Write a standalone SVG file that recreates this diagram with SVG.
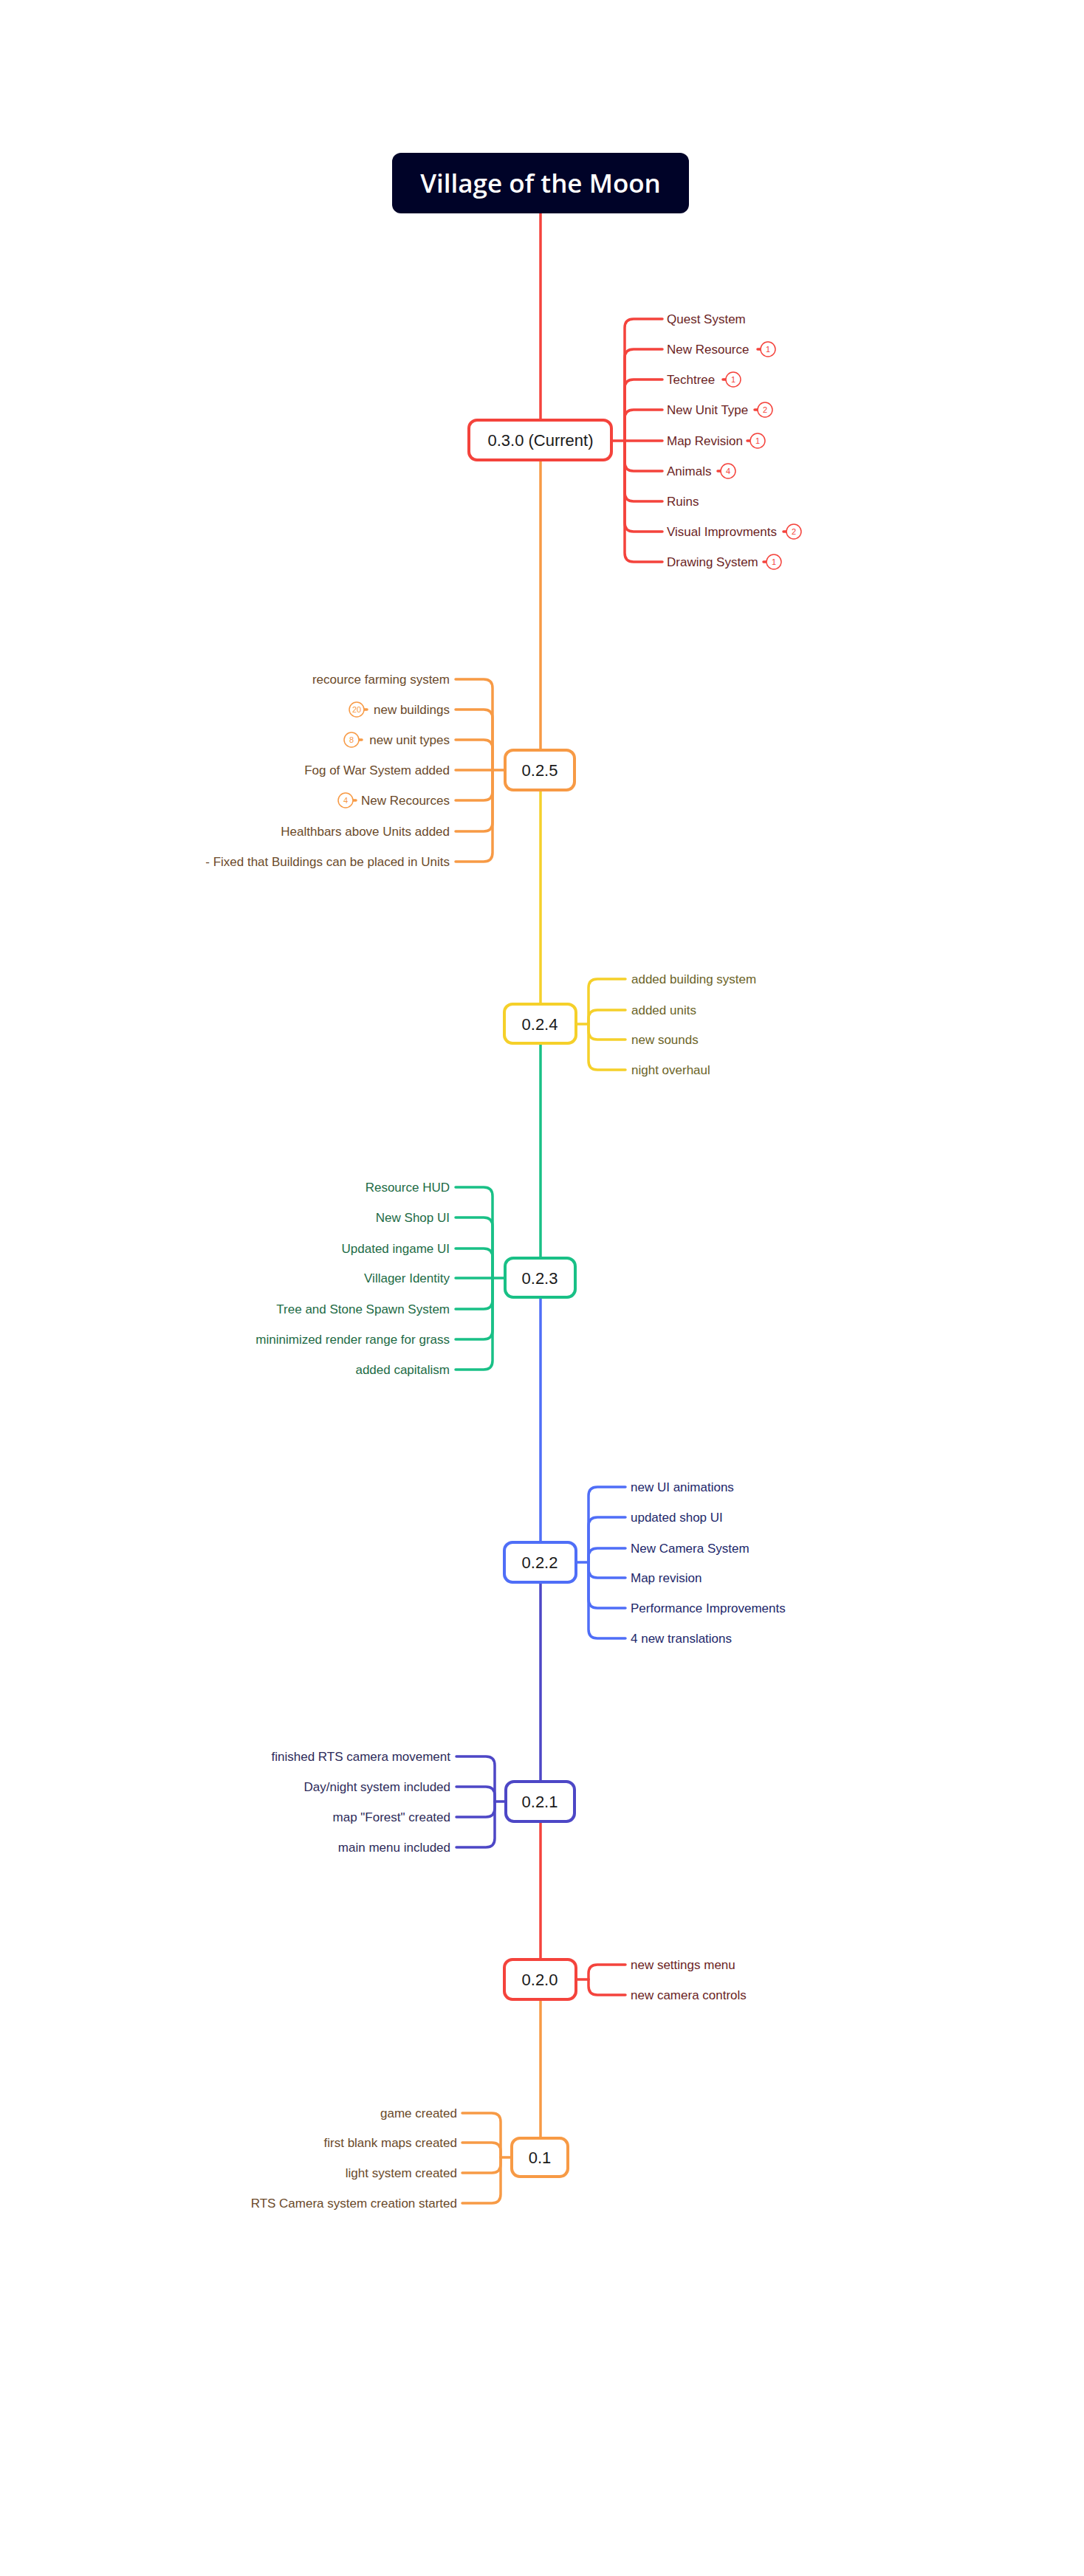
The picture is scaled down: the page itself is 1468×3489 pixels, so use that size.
<svg xmlns="http://www.w3.org/2000/svg" width="1468" height="3489" viewBox="0 0 1468 3489">
<style>
.bg{fill:#fff}
.node{fill:#fff;stroke-width:4}
.ntx{font-family:"Liberation Sans",Arial,sans-serif;font-size:22px;fill:#1a1a1a;text-anchor:middle}
.c{fill:none;stroke-width:3.5;stroke-linecap:round}
.sp{fill:none;stroke-width:3.5}
.t{font-family:"Liberation Sans",Arial,sans-serif;font-size:17px}
.l{text-anchor:end}
.b{fill:#fff;stroke-width:1.5}
.bt{font-family:"Liberation Sans",Arial,sans-serif;font-size:11px;text-anchor:middle}
.red{stroke:#f4433c}.org{stroke:#f79a45}.yel{stroke:#f5d02a}.grn{stroke:#19c086}.blu{stroke:#4f6ef7}.ind{stroke:#4d47c6}
.tred{fill:#6b1f1f}.torg{fill:#6b4a2a}.tyel{fill:#6b6428}.tgrn{fill:#1d6b45}.tblu{fill:#22286b}.tind{fill:#2d2b5a}
</style>
<rect class="bg" x="0" y="0" width="1468" height="3489"/>
<g id="connectors">
<path class="sp red" d="M732,289 V569"/>
<path class="sp org" d="M732,623 V1016"/>
<path class="sp yel" d="M732,1070 V1360"/>
<path class="sp grn" d="M732,1413 V1704"/>
<path class="sp blu" d="M732,1757 V2089"/>
<path class="sp ind" d="M732,2143 V2413"/>
<path class="sp red" d="M732,2467 V2654"/>
<path class="sp org" d="M732,2708 V2896"/>
<g class="c red">
<path d="M828,597 H846"/>
<path d="M846,597 V444 Q846,432 858,432 H897"/>
<path d="M846,597 V485 Q846,473 858,473 H897"/>
<path d="M846,597 V526 Q846,514 858,514 H897"/>
<path d="M846,597 V567 Q846,555 858,555 H897"/>
<path d="M846,597 H897"/>
<path d="M846,597 V626 Q846,638 858,638 H897"/>
<path d="M846,597 V667 Q846,679 858,679 H897"/>
<path d="M846,597 V708 Q846,720 858,720 H897"/>
<path d="M846,597 V749 Q846,761 858,761 H897"/>
</g>
<g class="c org">
<path d="M684,1043 H667"/>
<path d="M667,1043 V932 Q667,920 655,920 H617"/>
<path d="M667,1043 V973 Q667,961 655,961 H617"/>
<path d="M667,1043 V1014 Q667,1002 655,1002 H617"/>
<path d="M667,1043 H617"/>
<path d="M667,1043 V1072 Q667,1084 655,1084 H617"/>
<path d="M667,1043 V1114 Q667,1126 655,1126 H617"/>
<path d="M667,1043 V1155 Q667,1167 655,1167 H617"/>
</g>
<g class="c yel">
<path d="M780,1387 H797"/>
<path d="M797,1387 V1338 Q797,1326 809,1326 H847"/>
<path d="M797,1387 V1380 Q797,1368 809,1368 H847"/>
<path d="M797,1387 V1396 Q797,1408 809,1408 H847"/>
<path d="M797,1387 V1437 Q797,1449 809,1449 H847"/>
</g>
<g class="c grn">
<path d="M684,1731 H667"/>
<path d="M667,1731 V1620 Q667,1608 655,1608 H617"/>
<path d="M667,1731 V1661 Q667,1649 655,1649 H617"/>
<path d="M667,1731 V1703 Q667,1691 655,1691 H617"/>
<path d="M667,1731 H617"/>
<path d="M667,1731 V1761 Q667,1773 655,1773 H617"/>
<path d="M667,1731 V1802 Q667,1814 655,1814 H617"/>
<path d="M667,1731 V1843 Q667,1855 655,1855 H617"/>
</g>
<g class="c blu">
<path d="M780,2116 H797"/>
<path d="M797,2116 V2026 Q797,2014 809,2014 H847"/>
<path d="M797,2116 V2067 Q797,2055 809,2055 H847"/>
<path d="M797,2116 V2109 Q797,2097 809,2097 H847"/>
<path d="M797,2116 V2125 Q797,2137 809,2137 H847"/>
<path d="M797,2116 V2166 Q797,2178 809,2178 H847"/>
<path d="M797,2116 V2207 Q797,2219 809,2219 H847"/>
</g>
<g class="c ind">
<path d="M685,2440 H670"/>
<path d="M670,2440 V2391 Q670,2379 658,2379 H618"/>
<path d="M670,2440 V2432 Q670,2420 658,2420 H618"/>
<path d="M670,2440 V2449 Q670,2461 658,2461 H618"/>
<path d="M670,2440 V2490 Q670,2502 658,2502 H618"/>
</g>
<g class="c red">
<path d="M780,2681 H797"/>
<path d="M797,2681 V2673 Q797,2661 809,2661 H847"/>
<path d="M797,2681 V2690 Q797,2702 809,2702 H847"/>
</g>
<g class="c org">
<path d="M693,2922 H678"/>
<path d="M678,2922 V2874 Q678,2862 666,2862 H626"/>
<path d="M678,2922 V2914 Q678,2902 666,2902 H626"/>
<path d="M678,2922 V2931 Q678,2943 666,2943 H626"/>
<path d="M678,2922 V2972 Q678,2984 666,2984 H626"/>
</g>
</g>
<g id="title">
<rect x="531" y="207" width="402" height="82" rx="12" fill="#000328"/>
<text x="732" y="261" font-family="'Open Sans','Liberation Sans',sans-serif" font-size="35" font-weight="600" fill="#fff" text-anchor="middle">Village of the Moon</text>
</g>
<g id="n030">
<rect class="node red" x="635" y="569" width="193" height="54" rx="11"/>
<text class="ntx" x="732" y="604">0.3.0 (Current)</text>
<g class="t tred">
<text x="903" y="438">Quest System</text>
<text x="903" y="479">New Resource</text>
<text x="903" y="520">Techtree</text>
<text x="903" y="561">New Unit Type</text>
<text x="903" y="603">Map Revision</text>
<text x="903" y="644">Animals</text>
<text x="903" y="685">Ruins</text>
<text x="903" y="726">Visual Improvments</text>
<text x="903" y="767">Drawing System</text>
</g>
<g class="c red" stroke-width="1.5">
<path d="M1026,473 H1030 M979,514 H983 M1022,555 H1026 M1012,597 H1016 M972,638 H976 M1061,720 H1065 M1034,761 H1038"/>
</g>
<g class="red">
<circle class="b" cx="1040" cy="473" r="10"/><circle class="b" cx="993" cy="514" r="10"/><circle class="b" cx="1036" cy="555" r="10"/><circle class="b" cx="1026" cy="597" r="10"/><circle class="b" cx="986" cy="638" r="10"/><circle class="b" cx="1075" cy="720" r="10"/><circle class="b" cx="1048" cy="761" r="10"/>
</g>
<g class="bt" fill="#f4433c">
<text x="1040" y="477">1</text><text x="993" y="518">1</text><text x="1036" y="559">2</text><text x="1026" y="601">1</text><text x="986" y="642">4</text><text x="1075" y="724">2</text><text x="1048" y="765">1</text>
</g>
</g>
<g id="n025">
<rect class="node org" x="684" y="1016" width="94" height="54" rx="11"/>
<text class="ntx" x="731" y="1051">0.2.5</text>
<g class="t torg l">
<text x="609" y="926">recource farming system</text>
<text x="609" y="967">new buildings</text>
<text x="609" y="1008">new unit types</text>
<text x="609" y="1049">Fog of War System added</text>
<text x="609" y="1090">New Recources</text>
<text x="609" y="1132">Healthbars above Units added</text>
<text x="609" y="1173">- Fixed that Buildings can be placed in Units</text>
</g>
<g class="c org" stroke-width="1.5"><path d="M493,961 H497 M486,1002 H490 M478,1084 H482"/></g>
<g class="org"><circle class="b" cx="483" cy="961" r="10"/><circle class="b" cx="476" cy="1002" r="10"/><circle class="b" cx="468" cy="1084" r="10"/></g>
<g class="bt" fill="#f79a45"><text x="483" y="965">20</text><text x="476" y="1006">8</text><text x="468" y="1088">4</text></g>
</g>
<g id="n024">
<rect class="node yel" x="683" y="1360" width="97" height="53" rx="11"/>
<text class="ntx" x="731" y="1395">0.2.4</text>
<g class="t tyel">
<text x="855" y="1332">added building system</text>
<text x="855" y="1374">added units</text>
<text x="855" y="1414">new sounds</text>
<text x="855" y="1455">night overhaul</text>
</g>
</g>
<g id="n023">
<rect class="node grn" x="684" y="1704" width="95" height="53" rx="11"/>
<text class="ntx" x="731" y="1739">0.2.3</text>
<g class="t tgrn l">
<text x="609" y="1614">Resource HUD</text>
<text x="609" y="1655">New Shop UI</text>
<text x="609" y="1697">Updated ingame UI</text>
<text x="609" y="1737">Villager Identity</text>
<text x="609" y="1779">Tree and Stone Spawn System</text>
<text x="609" y="1820">mininimized render range for grass</text>
<text x="609" y="1861">added capitalism</text>
</g>
</g>
<g id="n022">
<rect class="node blu" x="683" y="2089" width="97" height="54" rx="11"/>
<text class="ntx" x="731" y="2124">0.2.2</text>
<g class="t tblu">
<text x="854" y="2020">new UI animations</text>
<text x="854" y="2061">updated shop UI</text>
<text x="854" y="2103">New Camera System</text>
<text x="854" y="2143">Map revision</text>
<text x="854" y="2184">Performance Improvements</text>
<text x="854" y="2225">4 new translations</text>
</g>
</g>
<g id="n021">
<rect class="node ind" x="685" y="2413" width="93" height="54" rx="11"/>
<text class="ntx" x="731" y="2448">0.2.1</text>
<g class="t tind l">
<text x="610" y="2385">finished RTS camera movement</text>
<text x="610" y="2426">Day/night system included</text>
<text x="610" y="2467">map "Forest" created</text>
<text x="610" y="2508">main menu included</text>
</g>
</g>
<g id="n020">
<rect class="node red" x="683" y="2654" width="97" height="54" rx="11"/>
<text class="ntx" x="731" y="2689">0.2.0</text>
<g class="t tred">
<text x="854" y="2667">new settings menu</text>
<text x="854" y="2708">new camera controls</text>
</g>
</g>
<g id="n01">
<rect class="node org" x="693" y="2896" width="76" height="52" rx="11"/>
<text class="ntx" x="731" y="2930">0.1</text>
<g class="t torg l">
<text x="619" y="2868">game created</text>
<text x="619" y="2908">first blank maps created</text>
<text x="619" y="2949">light system created</text>
<text x="619" y="2990">RTS Camera system creation started</text>
</g>
</g>
</svg>
